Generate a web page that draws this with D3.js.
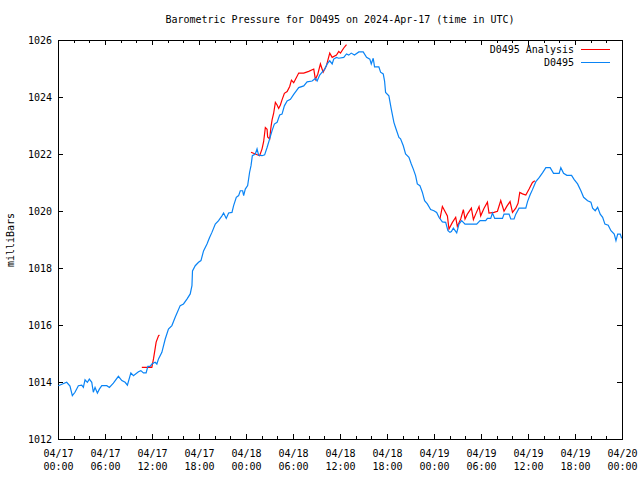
<!DOCTYPE html>
<html>
<head>
<meta charset="utf-8">
<script src="https://cdn.jsdelivr.net/npm/d3@7"></script>
<style>
  html, body { margin: 0; padding: 0; background: #fff; }
  text { font-family: "DejaVu Sans Mono", monospace; font-size: 10px; fill: #000; }
</style>
</head>
<body>
<svg id="chart" width="640" height="480"></svg>
<script>
// ---- Data (hours since 2024-04-17 00:00 UTC) ----
const startTime = "2024-04-17T00:00:00Z";
const yTicks = [1012, 1014, 1016, 1018, 1020, 1022, 1024, 1026];
const xTickHours = [0, 6, 12, 18, 24, 30, 36, 42, 48, 54, 60, 66, 72];
const seriesNames = ["D0495 Analysis", "D0495"];

const pressureHours = [0.04,1.11,1.53,1.83,2.17,2.6,3.03,3.24,3.45,3.75,4.0,4.31,4.51,4.73,5.03,5.28,5.59,6.23,6.56,7.07,7.71,8.15,8.57,8.86,9.3,9.63,10.27,10.58,10.91,11.25,11.47,11.76,11.98,12.4,12.62,12.83,13.26,13.68,14.1,14.54,14.96,15.6,16.02,16.46,16.88,17.1,17.17,17.52,17.94,18.25,18.58,19.02,19.35,19.65,20.08,20.5,20.93,21.14,21.48,21.78,22.21,22.42,22.76,23.06,23.27,23.57,23.7,23.91,24.21,24.46,24.64,24.81,25.19,25.41,25.61,26.05,26.38,26.69,27.02,27.33,27.62,27.97,28.3,28.6,28.9,29.25,29.67,30.09,30.73,31.37,31.8,32.44,32.86,33.08,33.41,33.72,34.05,34.36,34.69,35.0,35.2,35.55,35.84,36.48,36.83,37.12,37.43,37.85,38.4,38.96,39.39,39.81,39.99,40.24,40.41,40.96,41.18,41.52,41.69,41.82,42.24,42.54,42.88,43.09,43.52,43.73,44.08,44.37,44.8,45.1,45.36,45.65,45.87,46.2,46.51,46.8,47.15,47.57,47.99,48.34,48.63,49.07,49.49,49.78,50.04,50.22,50.47,50.9,51.19,51.53,51.96,52.69,53.45,53.88,54.6,54.82,55.24,55.46,55.75,56.74,56.94,57.58,57.8,58.22,58.44,58.86,59.72,59.94,60.27,60.57,61.0,61.42,61.85,62.28,62.83,63.26,63.98,64.19,64.54,64.96,65.56,65.9,66.33,66.75,67.1,67.61,68.03,68.25,68.58,68.89,69.22,69.53,69.82,70.24,70.59,71.01,71.23,71.45,71.78,71.96];
const pressureValues = [1013.87,1013.99,1013.86,1013.52,1013.64,1013.87,1013.89,1013.81,1014.08,1013.99,1014.1,1013.99,1013.64,1013.81,1013.61,1013.75,1013.87,1013.87,1013.81,1013.96,1014.2,1014.05,1013.99,1013.89,1014.32,1014.22,1014.36,1014.4,1014.32,1014.32,1014.55,1014.55,1014.63,1014.69,1014.63,1014.81,1015.04,1015.5,1015.86,1015.98,1016.27,1016.68,1016.74,1016.91,1017.09,1017.38,1017.9,1018.08,1018.2,1018.26,1018.6,1018.84,1019.07,1019.25,1019.54,1019.66,1019.83,1019.93,1019.74,1019.93,1019.95,1020.19,1020.48,1020.54,1020.71,1020.71,1020.54,1020.77,1020.89,1021.36,1021.59,1021.94,1022.0,1022.18,1021.96,1021.94,1021.97,1022.23,1022.53,1022.82,1023.05,1023.11,1023.37,1023.4,1023.69,1023.86,1023.92,1024.09,1024.33,1024.39,1024.53,1024.56,1024.65,1024.56,1024.77,1024.87,1024.98,1025.16,1025.27,1025.16,1025.33,1025.39,1025.36,1025.39,1025.51,1025.47,1025.54,1025.47,1025.58,1025.58,1025.39,1025.33,1025.16,1025.36,1025.06,1025.06,1024.87,1024.81,1024.56,1024.16,1024.04,1023.58,1023.11,1022.93,1022.58,1022.53,1022.29,1022.0,1021.88,1021.65,1021.47,1021.24,1020.95,1020.89,1020.66,1020.36,1020.25,1020.05,1020.01,1019.95,1019.78,1019.62,1019.6,1019.31,1019.25,1019.28,1019.4,1019.23,1019.54,1019.66,1019.54,1019.54,1019.54,1019.66,1019.66,1019.74,1019.74,1019.93,1019.74,1019.74,1019.89,1019.89,1019.72,1019.72,1019.89,1020.1,1020.1,1020.33,1020.57,1020.75,1021.03,1021.17,1021.34,1021.52,1021.52,1021.32,1021.32,1021.52,1021.32,1021.25,1021.25,1021.1,1020.95,1020.71,1020.48,1020.36,1020.31,1020.1,1020.01,1020.13,1019.89,1019.78,1019.54,1019.5,1019.31,1019.19,1018.96,1019.19,1019.19,1019.04];

// null entries mark gaps between analysis runs
const analysisHours = [10.7,11.98,12.19,12.53,12.83,12.95,null,24.64,25.19,25.74,26.05,26.25,26.47,26.69,26.76,27.02,27.2,27.33,27.53,27.75,27.97,28.17,28.39,28.6,28.9,29.25,29.58,29.8,30.09,30.73,31.37,32.01,32.65,32.86,33.16,33.5,33.85,34.27,34.69,35.0,35.55,35.84,36.06,36.48,36.83,null,48.76,49.07,49.71,49.91,50.35,50.77,50.98,51.41,51.75,51.96,52.26,52.77,53.03,53.32,53.75,53.96,54.39,54.82,55.02,55.66,56.1,56.52,56.94,57.29,57.71,58.02,58.44,58.73,58.95,59.3,59.72,60.14,60.57,60.87];
const analysisValues = [1014.51,1014.51,1014.81,1015.4,1015.62,1015.65,null,1022.06,1022.0,1021.94,1022.18,1022.43,1022.93,1022.87,1022.6,1022.53,1022.97,1023.2,1023.43,1023.81,1023.72,1023.6,1023.72,1023.9,1024.13,1024.19,1024.37,1024.59,1024.5,1024.84,1024.84,1024.9,1024.98,1024.62,1024.8,1025.16,1024.87,1025.1,1025.54,1025.39,1025.47,1025.6,1025.54,1025.72,1025.84,null,1019.72,1020.16,1019.83,1019.37,1019.6,1019.78,1019.46,1019.72,1020.05,1019.72,1019.89,1020.1,1019.7,1019.89,1020.16,1019.83,1020.1,1020.31,1019.93,1019.95,1019.99,1020.37,1019.99,1020.16,1020.33,1019.95,1020.1,1020.27,1020.65,1020.6,1020.56,1020.77,1021.0,1021.06];

const colors = { analysis: "#ff0000", obs: "#0a84f5" };

// ---- Layout ----
const svg = d3.select("#chart");
const L = 58, R = 622, T = 40, B = 439;
const t0 = new Date(startTime);
const toDate = h => new Date(t0.getTime() + h * 3600e3);

const x = d3.scaleUtc().domain([toDate(0), toDate(72)]).range([L, R]);
const y = d3.scaleLinear().domain([1012, 1026]).range([B, T]);

svg.append("rect").attr("width", 640).attr("height", 480).attr("fill", "#fff");

// minor ticks every 2 hours (top & bottom)
const minorHours = d3.range(0, 73, 2).filter(h => h % 6 !== 0);
const minorDates = minorHours.map(toDate);
svg.append("g").attr("transform", `translate(0,${B})`)
  .call(d3.axisBottom(x).tickValues(minorDates).tickSize(-3).tickFormat(""))
  .call(g => g.select(".domain").remove());
svg.append("g").attr("transform", `translate(0,${T})`)
  .call(d3.axisTop(x).tickValues(minorDates).tickSize(-3).tickFormat(""))
  .call(g => g.select(".domain").remove());

// major x ticks
const fmtDay = d3.utcFormat("%m/%d"), fmtTime = d3.utcFormat("%H:%M");
const xMajor = xTickHours.map(toDate);
const gx = svg.append("g").attr("transform", `translate(0,${B})`)
  .call(d3.axisBottom(x).tickValues(xMajor).tickSize(-5).tickPadding(0).tickFormat(""));
gx.select(".domain").remove();
gx.selectAll(".tick").append("text")
  .attr("text-anchor", "middle").attr("y", 18).text(d => fmtDay(d));
gx.selectAll(".tick").append("text")
  .attr("text-anchor", "middle").attr("y", 31).text(d => fmtTime(d));
svg.append("g").attr("transform", `translate(0,${T})`)
  .call(d3.axisTop(x).tickValues(xMajor).tickSize(-5).tickFormat(""))
  .call(g => g.select(".domain").remove());

// y axes
const gy = svg.append("g").attr("transform", `translate(${L},0)`)
  .call(d3.axisLeft(y).tickValues(yTicks).tickSize(-5).tickPadding(6).tickFormat(d3.format("d")));
gy.select(".domain").remove();
gy.selectAll("text").style("font-family", "DejaVu Sans Mono").style("font-size", "10px");
svg.append("g").attr("transform", `translate(${R},0)`)
  .call(d3.axisRight(y).tickValues(yTicks).tickSize(-5).tickFormat(""))
  .call(g => g.select(".domain").remove());

svg.selectAll(".tick line").attr("stroke", "#000").attr("shape-rendering", "crispEdges");

// frame
svg.append("rect").attr("x", L).attr("y", T).attr("width", R - L).attr("height", B - T)
  .attr("fill", "none").attr("stroke", "#000").attr("shape-rendering", "crispEdges");

// series
const analysisData = analysisHours.map((h, i) => ({ h, v: analysisValues[i] }));
const obsData = pressureHours.map((h, i) => ({ h, v: pressureValues[i] }));
const line = d3.line()
  .defined(d => d.h !== null && d.v !== null)
  .x(d => x(toDate(d.h))).y(d => y(d.v));

svg.append("path").datum(analysisData).attr("d", line)
  .attr("fill", "none").attr("stroke", colors.analysis).attr("stroke-width", 1.2);
svg.append("path").datum(obsData).attr("d", line)
  .attr("fill", "none").attr("stroke", colors.obs).attr("stroke-width", 1.2);

// legend
const legend = [
  { name: seriesNames[0], color: colors.analysis, yy: 49 },
  { name: seriesNames[1], color: colors.obs, yy: 62 }
];
const lg = svg.append("g");
legend.forEach(d => {
  lg.append("text").attr("x", 574).attr("y", d.yy + 4).attr("text-anchor", "end").text(d.name);
  lg.append("line").attr("x1", 581).attr("x2", 610).attr("y1", d.yy).attr("y2", d.yy)
    .attr("stroke", d.color).attr("stroke-width", 1).attr("shape-rendering", "crispEdges");
});

// title
svg.append("text").attr("x", 340).attr("y", 23).attr("text-anchor", "middle")
  .text("Barometric Pressure for D0495 on 2024-Apr-17 (time in UTC)");

// y label
svg.append("text").attr("transform", "translate(14,240) rotate(-90)")
  .attr("text-anchor", "middle").text("milliBars");
</script>
</body>
</html>
